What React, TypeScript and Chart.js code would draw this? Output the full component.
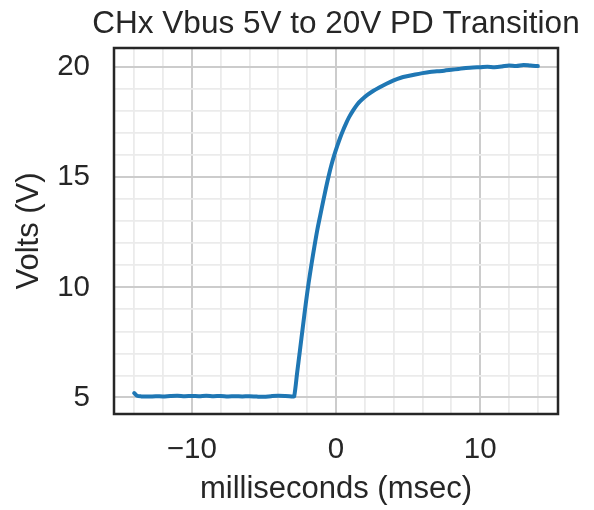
import React, { useEffect, useRef } from "react";
import { Chart, registerables } from "chart.js";

Chart.register(...registerables);

const titleText = "CHx Vbus 5V to 20V PD Transition";
const xLabel = "milliseconds (msec)";
const yLabel = "Volts (V)";

const timeMs: number[] = [
  -14.0, -13.8, -13.5, -13.0, -12.5, -12.0, -11.5, -11.0, -10.5, -10.0, -9.5, -9.0, -8.5, -8.0,
  -7.5, -7.0, -6.5, -6.0, -5.5, -5.0, -4.5, -4.0, -3.5, -3.0, -2.9,
  -2.7, -2.5, -2.3, -2.1, -1.9, -1.7, -1.5, -1.3, -1.1, -0.9, -0.7, -0.5, -0.3, -0.1,
  0.1, 0.3, 0.5, 0.7, 0.9, 1.2, 1.5, 1.8, 2.2, 2.6, 3.0, 3.5, 4.0, 4.5, 5.0, 5.5, 6.0,
  6.5, 7.0, 7.5, 8.0, 8.5, 9.0, 9.5, 10.0, 10.5, 11.0, 11.5, 12.0, 12.5, 13.0, 13.5, 14.0,
];

const voltsV: number[] = [
  5.2, 5.08, 5.05, 5.04, 5.06, 5.05, 5.07, 5.08, 5.06, 5.07, 5.06, 5.08, 5.06, 5.07,
  5.05, 5.06, 5.05, 5.06, 5.04, 5.03, 5.06, 5.08, 5.07, 5.05, 5.05,
  6.1, 7.15, 8.2, 9.25, 10.2, 11.05, 11.85, 12.6, 13.25, 13.88, 14.5, 15.08, 15.6, 16.05,
  16.45, 16.82, 17.15, 17.45, 17.72, 18.05, 18.33, 18.53, 18.75, 18.93, 19.08, 19.25, 19.4, 19.52, 19.6, 19.67, 19.73,
  19.78, 19.81, 19.84, 19.88, 19.92, 19.96, 19.99, 20.0, 20.02, 20.0, 20.03, 20.08, 20.05, 20.1, 20.07, 20.05,
];

const xGridTicks: number[] = [-14, -12, -10, -8, -6, -4, -2, 0, 2, 4, 6, 8, 10, 12, 14];
const xMajorTicks: number[] = [-10, 0, 10];
const yGridTicks: number[] = [5, 6, 7, 8, 9, 10, 11, 12, 13, 14, 15, 16, 17, 18, 19, 20];
const yMajorTicks: number[] = [5, 10, 15, 20];

const TEXT = "#262626";
const FONT = '"Liberation Sans", Arial, sans-serif';

const framePlugin = {
  id: "frameAndTitle",
  afterDatasetsDraw(chart: any) {
    const { ctx, chartArea } = chart;
    ctx.save();
    ctx.strokeStyle = TEXT;
    ctx.lineWidth = 2.5;
    ctx.strokeRect(chartArea.left, chartArea.top, chartArea.right - chartArea.left, chartArea.bottom - chartArea.top);
    ctx.fillStyle = TEXT;
    ctx.font = `31.5px ${FONT}`;
    ctx.textAlign = "center";
    ctx.textBaseline = "alphabetic";
    ctx.fillText(titleText, (chartArea.left + chartArea.right) / 2, 33);
    ctx.restore();
  },
};

const fmt = (v: number) => (v < 0 ? "\u2212" + Math.abs(v) : String(v));

export default function App() {
  const ref = useRef<HTMLCanvasElement | null>(null);

  useEffect(() => {
    if (!ref.current) return;
    Chart.defaults.font.family = FONT;
    Chart.defaults.color = TEXT;
    const chart = new Chart(ref.current, {
      type: "line",
      data: {
        datasets: [
          {
            data: timeMs.map((t, i) => ({ x: t, y: voltsV[i] })),
            borderColor: "#1f77b4",
            backgroundColor: "#1f77b4",
            borderWidth: 4,
            pointRadius: 0,
            tension: 0.3,
            borderCapStyle: "round",
            borderJoinStyle: "round",
          },
        ],
      },
      options: {
        animation: false,
        responsive: false,
        devicePixelRatio: 1,
        layout: { padding: { left: 0, right: 36, top: 48, bottom: 0 } },
        plugins: {
          legend: { display: false },
          tooltip: { enabled: false },
          title: { display: false },
        },
        scales: {
          x: {
            type: "linear",
            min: -15.4,
            max: 15.4,
            afterBuildTicks: (scale: any) => {
              scale.ticks = xGridTicks.map((v) => ({ value: v }));
            },
            afterFit: (scale: any) => {
              scale.height = 96;
            },
            ticks: {
              autoSkip: false,
              maxRotation: 0,
              padding: 18,
              color: TEXT,
              font: { size: 29.5 },
              callback: (v: any) => (xMajorTicks.includes(Number(v)) ? fmt(Number(v)) : ""),
            },
            grid: {
              drawTicks: false,
              color: (c: any) => (xMajorTicks.includes(c.tick?.value) ? "#cccccc" : "#ebebeb"),
              lineWidth: (c: any) => (xMajorTicks.includes(c.tick?.value) ? 2 : 1.8),
            },
            border: { display: false },
            title: {
              display: true,
              text: xLabel,
              color: TEXT,
              font: { size: 31 },
              padding: { top: 0, bottom: 2 },
            },
          },
          y: {
            type: "linear",
            min: 4.25,
            max: 20.87,
            afterBuildTicks: (scale: any) => {
              scale.ticks = yGridTicks.map((v) => ({ value: v }));
            },
            afterFit: (scale: any) => {
              scale.width = 114;
            },
            ticks: {
              autoSkip: false,
              padding: 24,
              color: TEXT,
              font: { size: 29.5 },
              callback: (v: any) => (yMajorTicks.includes(Number(v)) ? fmt(Number(v)) : ""),
            },
            grid: {
              drawTicks: false,
              color: (c: any) => (yMajorTicks.includes(c.tick?.value) ? "#cccccc" : "#ebebeb"),
              lineWidth: (c: any) => (yMajorTicks.includes(c.tick?.value) ? 2 : 1.8),
            },
            border: { display: false },
            title: {
              display: true,
              text: yLabel,
              color: TEXT,
              font: { size: 31 },
              padding: { top: 11, bottom: 0 },
            },
          },
        },
      },
      plugins: [framePlugin],
    } as any);
    return () => chart.destroy();
  }, []);

  return (
    <canvas
      ref={ref}
      width={594}
      height={510}
      style={{ position: "fixed", left: 0, top: 0, width: 594, height: 510, display: "block", background: "#fff" }}
    />
  );
}
